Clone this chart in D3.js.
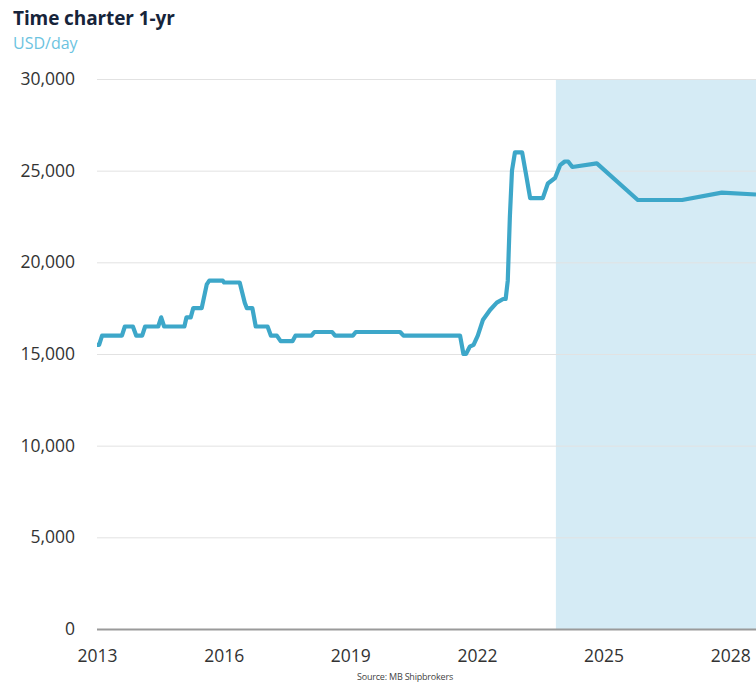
<!DOCTYPE html>
<html>
<head>
<meta charset="utf-8">
<script src="https://cdn.jsdelivr.net/npm/d3@7"></script>
<style>
  html, body { margin: 0; padding: 0; background: #fff; }
  svg { display: block; }
</style>
</head>
<body>
<svg id="chart" width="756" height="684"></svg>
<script>
// ---- data (decimal years, USD/day) ----
const years = [
  2013.00, 2013.05, 2013.12, 2013.59, 2013.66, 2013.85, 2013.93, 2014.07, 2014.14,
  2014.45, 2014.52, 2014.59, 2015.07, 2015.12, 2015.22, 2015.28, 2015.48, 2015.60,
  2015.66, 2015.98, 2016.01, 2016.38, 2016.50, 2016.55, 2016.68, 2016.76, 2017.04,
  2017.12, 2017.26, 2017.35, 2017.63, 2017.70, 2018.08, 2018.15, 2018.57, 2018.64,
  2019.06, 2019.13, 2020.18, 2020.26, 2021.60, 2021.68, 2021.74, 2021.83, 2021.92,
  2022.02, 2022.14, 2022.31, 2022.47, 2022.62, 2022.68, 2022.73, 2022.78, 2022.83,
  2022.90, 2023.07, 2023.17, 2023.26, 2023.56, 2023.68, 2023.85, 2023.97, 2024.08,
  2024.16, 2024.26, 2024.84, 2025.81, 2026.86, 2027.80, 2028.61
];
const rates = [
  15500, 15500, 16000, 16000, 16500, 16500, 16000, 16000, 16500,
  16500, 17000, 16500, 16500, 17000, 17000, 17500, 17500, 18800,
  19000, 19000, 18900, 18900, 17800, 17500, 17500, 16500, 16500,
  16000, 16000, 15700, 15700, 16000, 16000, 16200, 16200, 16000,
  16000, 16200, 16200, 16000, 16000, 15000, 15000, 15400, 15500,
  16000, 16850, 17400, 17800, 18000, 18000, 19000, 22500, 25000,
  26000, 26000, 24700, 23500, 23500, 24300, 24600, 25300, 25500,
  25500, 25200, 25400, 23400, 23400, 23800, 23700
];
const yTicks = [0, 5000, 10000, 15000, 20000, 25000, 30000];
const xTicks = [2013, 2016, 2019, 2022, 2025, 2028];
const forecastStart = 2023.87;
const xEnd = 2028.61;

const title = "Time charter 1-yr";
const subtitle = "USD/day";
const source = "Source: MB Shipbrokers";

// ---- layout ----
const svg = d3.select("#chart");
const M = { left: 97, right: 756, top: 79, bottom: 629 };

const x = d3.scaleLinear().domain([2013, xEnd]).range([M.left, M.right]);
const y = d3.scaleLinear().domain([0, 30000]).range([M.bottom, M.top]);

const fontStack = "'Open Sans', 'DejaVu Sans', sans-serif";

// forecast shading
svg.append("rect")
  .attr("x", x(forecastStart))
  .attr("y", y(30000))
  .attr("width", x(xEnd) - x(forecastStart))
  .attr("height", y(0) - y(30000))
  .attr("fill", "#d5ebf5");

// y gridlines + labels
const yAxis = d3.axisLeft(y)
  .tickValues(yTicks)
  .tickSize(-(M.right - M.left))
  .tickPadding(22)
  .tickFormat(d3.format(","));
const gy = svg.append("g").attr("transform", `translate(${M.left},0)`).call(yAxis);
gy.select(".domain").remove();
gy.selectAll(".tick line")
  .attr("stroke", d => d === 0 ? "#9a9a9a" : "#e2e2e2")
  .attr("stroke-width", d => d === 0 ? 2 : 1);
gy.selectAll(".tick text")
  .attr("fill", "#333")
  .style("font-family", fontStack)
  .style("font-size", "17.5px");

// x axis labels
const xAxis = d3.axisBottom(x)
  .tickValues(xTicks)
  .tickSize(0)
  .tickPadding(21)
  .tickFormat(d3.format("d"));
const gx = svg.append("g").attr("transform", `translate(0,${M.bottom})`).call(xAxis);
gx.select(".domain").remove();
gx.selectAll(".tick text")
  .attr("fill", "#333")
  .style("font-family", fontStack)
  .style("font-size", "17.5px");

// line
const line = d3.line()
  .x((d, i) => x(years[i]))
  .y(d => y(d));
svg.append("path")
  .datum(rates)
  .attr("d", line)
  .attr("fill", "none")
  .attr("stroke", "#3da7c9")
  .attr("stroke-width", 4.2)
  .attr("stroke-linejoin", "round")
  .attr("stroke-linecap", "butt");

// titles
svg.append("text")
  .attr("x", 13).attr("y", 25)
  .text(title)
  .style("font-family", fontStack)
  .style("font-weight", "700")
  .style("font-size", "19px")
  .style("letter-spacing", "-0.1px")
  .attr("fill", "#16243a");
svg.append("text")
  .attr("x", 13).attr("y", 49)
  .text(subtitle)
  .style("font-family", fontStack)
  .style("font-size", "16px")
  .attr("fill", "#6cc3df");

// source
svg.append("text")
  .attr("x", 405).attr("y", 680)
  .attr("text-anchor", "middle")
  .text(source)
  .style("font-family", fontStack)
  .style("font-size", "9px")
  .style("letter-spacing", "-0.2px")
  .attr("fill", "#444");
</script>
</body>
</html>
